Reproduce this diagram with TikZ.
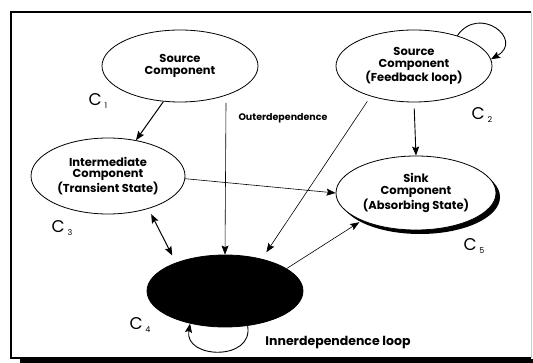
\documentclass[tikz,border=0pt]{standalone}
\usepackage{fontspec}
\setmainfont{Poppins}
\usetikzlibrary{shapes.geometric,arrows.meta,shadows}

\newcommand{\cname}[1]{C\,{\fontsize{8}{8}\selectfont\raisebox{-3pt}{#1}}}

\begin{document}
\begin{tikzpicture}[x=1pt,y=-1pt,->,>={Stealth[length=9pt,width=7pt,inset=1.5pt]},semithick,
    comp/.style={ellipse,draw,line width=0.8pt,minimum width=156pt,minimum height=72pt},
    txt/.style={align=center,font=\fontsize{11.5}{11.5}\selectfont\bfseries},
    clab/.style={font=\fontsize{17}{17}\selectfont},
    gap/.style={shorten <=6pt}]
    \useasboundingbox (0,0) rectangle (533,363);
    % frame
    \fill[black] (20,359) rectangle (533,363);
    \draw[-,line width=1.5pt] (531,12) -- (11,12) -- (11,358) -- (531,358);
    \draw[-,gray!40] (531.5,12) -- (531.5,358);
    % components
    \node[comp,label={[txt]center:Source\\Component}] (c1) at (180,66) {};
    \node[comp,label={[txt]center:Source\\Component\\(Feedback loop)}] (c2) at (414,66) {};
    \node[comp,minimum width=154pt,minimum height=76pt,label={[txt]center:Intermediate\\Component\\(Transient State)}] (c3) at (108,176) {};
    \node[comp,fill=black] (c4) at (225,291) {};
    \node[comp,fill=white,minimum width=160pt,minimum height=74pt,
          drop shadow={shadow xshift=4pt,shadow yshift=-4pt,fill=black,opacity=1},
          label={[txt]center:Sink\\Component\\(Absorbing State)}] (c5) at (416,193) {};
    \node[clab] (l1) at (98,101) {\cname{1}};
    \node[clab] (l2) at (482,115) {\cname{2}};
    \node[clab] (l3) at (62,228) {\cname{3}};
    \node[clab] (l4) at (140,325) {\cname{4}};
    \node[clab] (l5) at (474,246) {\cname{5}};
    \node[font=\fontsize{9.5}{9.5}\selectfont\bfseries] (outer) at (283,118) {Outerdependence};
    \node[font=\fontsize{12.5}{12.5}\selectfont\bfseries] (inner) at (338,343) {Innerdependence loop};
    \coordinate (od) at (226,103);
    % dependences
    \path
        (c1.245) edge[line width=1pt] (c3.52)
        (od) edge (c4.north)
        (c2.south) edge[gap,line width=0.9pt] (c5.north)
        (c2.215) edge[gap,shorten >=8pt] (c4.41)
        (c3.358) edge (c5.west)
        (c3.321) edge[<->,line width=1pt,shorten <=6pt,shorten >=8pt] (c4.150)
        (c4.20) edge[shorten >=3pt] (c5.207)
        (c2.35) edge[line width=0.9pt,out=55,in=30,looseness=2.4] (c2.5)
        (c4.303) edge[line width=0.9pt,out=-80,in=-100,looseness=1.6] (c4.223);
\end{tikzpicture}
\end{document}
